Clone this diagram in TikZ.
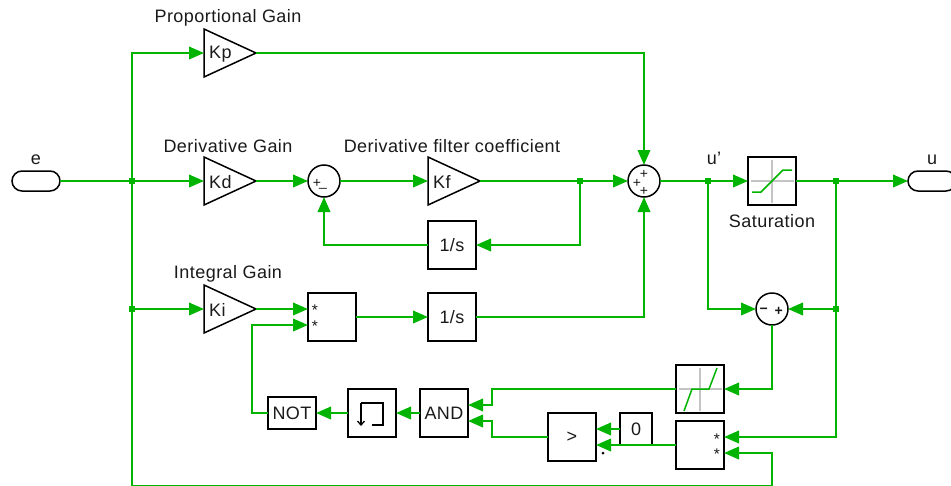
\documentclass[tikz,border=0pt]{standalone}
\usepackage{fontspec}
\setmainfont[LetterSpace=2.5]{Liberation Sans}
\usetikzlibrary{arrows.meta}
\definecolor{wire}{HTML}{00B400}
\definecolor{ink}{HTML}{1A1A1A}
\definecolor{grid}{HTML}{C4C4C4}
\tikzset{
  x=1pt,y=-1pt,
  every node/.style={text=ink,font=\fontsize{18}{19}\selectfont,inner sep=0pt},
  blk/.style={draw=black,line width=1.5pt,fill=white,minimum width=48pt,minimum height=48pt,outer sep=0pt},
  smallblk/.style={blk,minimum height=32pt},
  zeroblk/.style={blk,minimum width=32pt,minimum height=32pt},
  gainbox/.style={minimum width=52pt,minimum height=48pt,outer sep=0pt},
  sumc/.style={circle,draw=black,line width=1.5pt,fill=white,minimum size=32pt,outer sep=0pt},
  port/.style={draw=black,line width=1.5pt,fill=white,rounded corners=10pt,minimum width=48pt,minimum height=20pt,outer sep=0pt},
  joint/.style={fill=wire,minimum size=5.5pt,outer sep=0pt},
  w/.style={draw=wire,line width=2pt},
  wa/.style={w,-{Triangle[length=15pt,width=12.5pt]}},
  tri/.style={draw=black,line width=1.5pt,fill=white,line join=miter},
  sign/.style={font=\fontsize{14}{14}\selectfont},
  star/.style={font=\fontsize{15.5}{15.5}\selectfont},
  lab/.style={font=\fontsize{18}{19}\selectfont},
  gridl/.style={draw=grid,line width=1.3pt},
  icon/.style={draw=wire,line width=1.5pt},
}
\begin{document}
\begin{tikzpicture}
\useasboundingbox (0,0) rectangle (951,485);
\clip (0,0) rectangle (951,485);
\fill[white] (0,0) rectangle (951,485);

% gains
\node[gainbox] (kp) at (230,53) {};
\node[gainbox] (kd) at (230,181) {};
\node[gainbox] (ki) at (230,309) {};
\node[gainbox] (kf) at (454,181) {};
\draw[tri] (kp.north west)--(kp.east)--(kp.south west)--cycle;
\draw[tri] (kd.north west)--(kd.east)--(kd.south west)--cycle;
\draw[tri] (ki.north west)--(ki.east)--(ki.south west)--cycle;
\draw[tri] (kf.north west)--(kf.east)--(kf.south west)--cycle;
\node[anchor=west] (kpt) at (209,54.5) {Kp};
\node[anchor=west] (kdt) at (209,182) {Kd};
\node[anchor=west] (kit) at (209,310) {Ki};
\node[anchor=west] (kft) at (433,182) {Kf};

% blocks
\node[port] (e) at (36,181) {};
\node[port] (u) at (932,181) {};
\node[sumc] (s1) at (324,181) {};
\node[sumc] (sm) at (644,181) {};
\node[sumc] (s3) at (772,309) {};
\node[blk] (sat) at (772,181) {};
\node[blk] (intf) at (452,245) {1/s};
\node[blk] (prod) at (332,317) {};
\node[blk] (inti) at (452,317) {1/s};
\node[smallblk] (not) at (292,413) {NOT};
\node[blk] (edge) at (372,413) {};
\node[blk] (and) at (444,413) {AND};
\node[blk] (gt) at (572,437) {>};
\node[zeroblk] (zero) at (636,429) {0};
\node[blk] (prod2) at (700,445) {};
\node[blk] (dz) at (700,389) {};

% junctions and corners
\coordinate (tb) at (132,485.7);
\coordinate (tt) at (132,53);
\coordinate (j1) at (132,181);
\coordinate (j6) at (132,309);
\coordinate (j2) at (580,181);
\coordinate (j3) at (708,181);
\coordinate (j4) at (836,181);
\coordinate (j5) at (836,309);
\coordinate (bb) at (772,485.7);
\coordinate (nc) at (252,413);

% wires
\draw[w] (e.east) -- (j1);
\draw[wa] (j1) -- (kd.west);
\draw[wa] (kd.east) -- (s1.west);
\draw[wa] (s1.east) -- (kf.west);
\draw[w] (kf.east) -- (j2);
\draw[wa] (j2) -- (sm.west);
\draw[wa] (j2) |- (intf.east);
\draw[wa] (intf.west) -| (s1.south);
\draw[wa] (tb) -- (tt) -- (kp.west);
\draw[wa] (kp.east) -| (sm.north);
\draw[wa] (j6) -- (ki.west);
\draw[wa] (ki.east) -- ([yshift=8pt]prod.west);
\draw[wa] (prod.east) -- (inti.west);
\draw[wa] (inti.east) -| (sm.south);
\draw[w] (sm.east) -- (j3);
\draw[wa] (j3) -- (sat.west);
\draw[w] (sat.east) -- (j4);
\draw[wa] (j4) -- (u.west);
\draw[wa] (j3) |- (s3.west);
\draw[w] (j4) -- (j5);
\draw[wa] (j5) -- (s3.east);
\draw[wa] (j5) |- ([yshift=8pt]prod2.east);
\draw[wa] (s3.south) |- (dz.east);
\draw[wa] (dz.west) -| ([xshift=24pt,yshift=8pt]and.east) -- ([yshift=8pt]and.east);
\draw[wa] (gt.west) -| ([xshift=24pt,yshift=-8pt]and.east) -- ([yshift=-8pt]and.east);
\draw[wa] (and.west) -- (edge.east);
\draw[wa] (edge.west) -- (not.east);
\draw[wa] (not.west) -- (nc) |- ([yshift=-8pt]prod.west);
\draw[wa] (zero.west) -- ([yshift=8pt]gt.east);
\draw[wa] (prod2.west) -- ([yshift=-8pt]gt.east);
\draw[wa] (tb) -- (bb) |- ([yshift=-8pt]prod2.east);

\node[joint] (jn1) at (j1) {};
\node[joint] (jn6) at (j6) {};
\node[joint] (jn2) at (j2) {};
\node[joint] (jn3) at (j3) {};
\node[joint] (jn4) at (j4) {};
\node[joint] (jn5) at (j5) {};

% icons
\draw[gridl] (751,181) -- (794,181);
\draw[gridl] (772,160) -- (772,203);
\draw[icon] (752,192) -- (761,192) -- (783,170) -- (792,170);
\draw[gridl] (679,389) -- (722,389);
\draw[gridl] (700,368) -- (700,411);
\draw[icon] (684,411) -- (692,389) -- (709,389) -- (717,368);
\draw[draw=black,line width=1.3pt,-{Straight Barb[length=4pt,width=7pt]}] (361,403) -- (361,426);
\draw[draw=black,line width=1.3pt] (361,403) -- (383,403) -- (383,425) -- (372,425);

% signs
\node[sign] (p1) at (644,174.5) {+};
\node[sign] (p2) at (637,183.5) {+};
\node[sign] (p3) at (644,191) {+};
\node[sign] (p4) at (317,183) {+};
\node[sign] (m1) at (323,188) {\_};
\node[sign] (m2) at (764,311) {\textbf{−}};
\node[sign] (p5) at (779,311) {\textbf{+}};
\node[star] (st1) at (315,310.5) {*};
\node[star] (st2) at (315,326.5) {*};
\node[star] (st3) at (717,439.5) {*};
\node[star] (st4) at (717,454.5) {*};
\fill[black] (603,453) circle (1.5pt);

% labels
\node[lab] (l1) at (228,18) {Proportional Gain};
\node[lab] (l2) at (228,146) {Derivative Gain};
\node[lab] (l3) at (452,146) {Derivative filter coefficient};
\node[lab] (l4) at (228,274) {Integral Gain};
\node[lab] (l5) at (36,159.5) {e};
\node[lab] (l6) at (714,158) {u'};
\node[lab] (l7) at (772,221) {Saturation};
\node[lab] (l8) at (932,159.5) {u};
\end{tikzpicture}
\end{document}
